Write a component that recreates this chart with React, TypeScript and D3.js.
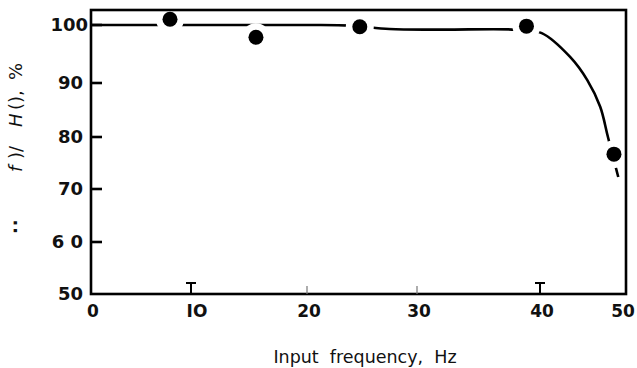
import React, { useEffect, useRef } from 'react';
import * as d3 from 'd3';

// measured points
const freqs = [7.9, 15.6, 24.8, 38.9, 48.6];
const response = [101.0, 97.9, 99.7, 99.8, 76.7];

// hand-drawn fitted curve
const curveFreqs = [0, 10, 20, 24, 27.5, 32, 38, 40.2, 43.5, 45.5, 47.0, 47.9, 49.1];
const curveResp = [100, 100, 100, 99.9, 99.3, 99.2, 99.2, 98.6, 94.5, 90.5, 85.6, 80.0, 72.3];

const xTicks = [0, 10, 20, 30, 40, 50];
const xTickLabels = ['0', 'IO', '20', '30', '40', '50'];
const yTicks = [50, 60, 70, 80, 90, 100];
const yTickLabels = ['50', '6 0', '70', '80', '90', '100'];

const W = 637;
const H = 368;
const FONT = 'DejaVu Sans, sans-serif';

export default function App() {
  const svgRef = useRef<SVGSVGElement>(null);

  useEffect(() => {
    if (!svgRef.current) return;
    const svg = d3.select(svgRef.current);
    svg.selectAll('*').remove();

    const left = 91;
    const right = 626;
    const top = 10;
    const bottom = 294;

    // scanned figure is slightly uneven, so piecewise scales follow its tick spacing
    const x = d3.scaleLinear().domain(xTicks).range([91, 191, 307, 417, 540, 626]);
    const y = d3.scaleLinear().domain(yTicks).range([294, 242, 189, 137, 83, 25]);

    const g = svg.append('g');

    // fitted curve
    const curveData = curveFreqs.map((f, i) => ({ f, r: curveResp[i] }));
    const line = d3
      .line<{ f: number; r: number }>()
      .x((d) => x(d.f))
      .y((d) => y(d.r))
      .curve(d3.curveCatmullRom.alpha(0.5));
    g.append('path')
      .datum(curveData)
      .attr('d', line)
      .attr('fill', 'none')
      .attr('stroke', '#000')
      .attr('stroke-width', 2.6);

    const pts = freqs.map((f, i) => ({ f, r: response[i] }));

    // gaps in the line around each point
    g.selectAll('.halo')
      .data(pts)
      .enter()
      .append('circle')
      .attr('cx', (d) => x(d.f))
      .attr('cy', (d) => y(d.r))
      .attr('r', 14)
      .attr('fill', '#fff');

    g.selectAll('.dot')
      .data(pts)
      .enter()
      .append('circle')
      .attr('cx', (d) => x(d.f))
      .attr('cy', (d) => y(d.r))
      .attr('r', 7.5)
      .attr('fill', '#000');

    // frame
    g.append('rect')
      .attr('x', left)
      .attr('y', top)
      .attr('width', right - left)
      .attr('height', bottom - top)
      .attr('fill', 'none')
      .attr('stroke', '#000')
      .attr('stroke-width', 2.6);

    // y ticks (inward) and labels
    g.selectAll('.ytick')
      .data(yTicks.slice(1))
      .enter()
      .append('line')
      .attr('x1', left)
      .attr('x2', left + 11)
      .attr('y1', (d) => y(d))
      .attr('y2', (d) => y(d))
      .attr('stroke', '#000')
      .attr('stroke-width', 2.6);

    g.selectAll('.ylab')
      .data(yTicks)
      .enter()
      .append('text')
      .attr('x', (d) => (d === 100 ? left - 3 : left - 8))
      .attr('y', (d) => y(d))
      .attr('dy', '0.36em')
      .attr('text-anchor', 'end')
      .attr('font-family', FONT)
      .attr('font-size', 18)
      .attr('font-weight', 600)
      .attr('fill', '#111')
      .text((d, i) => yTickLabels[i]);

    // x ticks (inward) and labels
    const inner = xTicks.filter((d) => d > 0 && d < 50);
    const capped = (d: number) => d === 10 || d === 40;
    g.selectAll('.xtick')
      .data(inner)
      .enter()
      .append('line')
      .attr('x1', (d) => x(d))
      .attr('x2', (d) => x(d))
      .attr('y1', bottom)
      .attr('y2', (d) => (capped(d) ? bottom - 11 : bottom - 8))
      .attr('stroke', (d) => (capped(d) ? '#000' : '#777'))
      .attr('stroke-width', (d) => (capped(d) ? 2 : 1.2));
    g.selectAll('.xcap')
      .data(inner.filter(capped))
      .enter()
      .append('line')
      .attr('x1', (d) => x(d) - 5)
      .attr('x2', (d) => x(d) + 5)
      .attr('y1', bottom - 11)
      .attr('y2', bottom - 11)
      .attr('stroke', '#000')
      .attr('stroke-width', 2);

    g.selectAll('.xlab')
      .data(xTicks)
      .enter()
      .append('text')
      .attr('x', (d) => x(d) + (d === 10 ? 6 : d === 50 ? -3 : 2))
      .attr('y', 317)
      .attr('text-anchor', 'middle')
      .attr('font-family', FONT)
      .attr('font-size', 17)
      .attr('font-weight', 600)
      .attr('fill', '#111')
      .text((d, i) => xTickLabels[i]);

    // axis titles
    g.append('text')
      .attr('x', 365)
      .attr('y', 363)
      .attr('text-anchor', 'middle')
      .attr('font-family', FONT)
      .attr('font-size', 17.5)
      .attr('fill', '#111')
      .style('white-space', 'pre')
      .text('Input  frequency,  Hz');

    // rotated y title; pieces placed along the axis as in the scan
    const yt = g
      .append('text')
      .attr('transform', 'rotate(-90)')
      .attr('y', 22)
      .attr('font-family', FONT)
      .attr('font-size', 18)
      .attr('fill', '#111')
      .style('white-space', 'pre');
    yt.append('tspan').attr('x', -234).attr('font-weight', 'bold').attr('letter-spacing', 1).text('··');
    yt.append('tspan').attr('x', -172).attr('font-style', 'italic').text('f');
    yt.append('tspan').attr('x', -159).text(')/');
    yt.append('tspan').attr('x', -127).attr('font-style', 'italic').text('H');
    yt.append('tspan').attr('x', -110).text('(),');
    yt.append('tspan').attr('x', -80).text('%');
  }, []);

  return (
    <svg
      ref={svgRef}
      width={W}
      height={H}
      style={{ position: 'absolute', left: 0, top: 0, background: '#fff' }}
    />
  );
}
